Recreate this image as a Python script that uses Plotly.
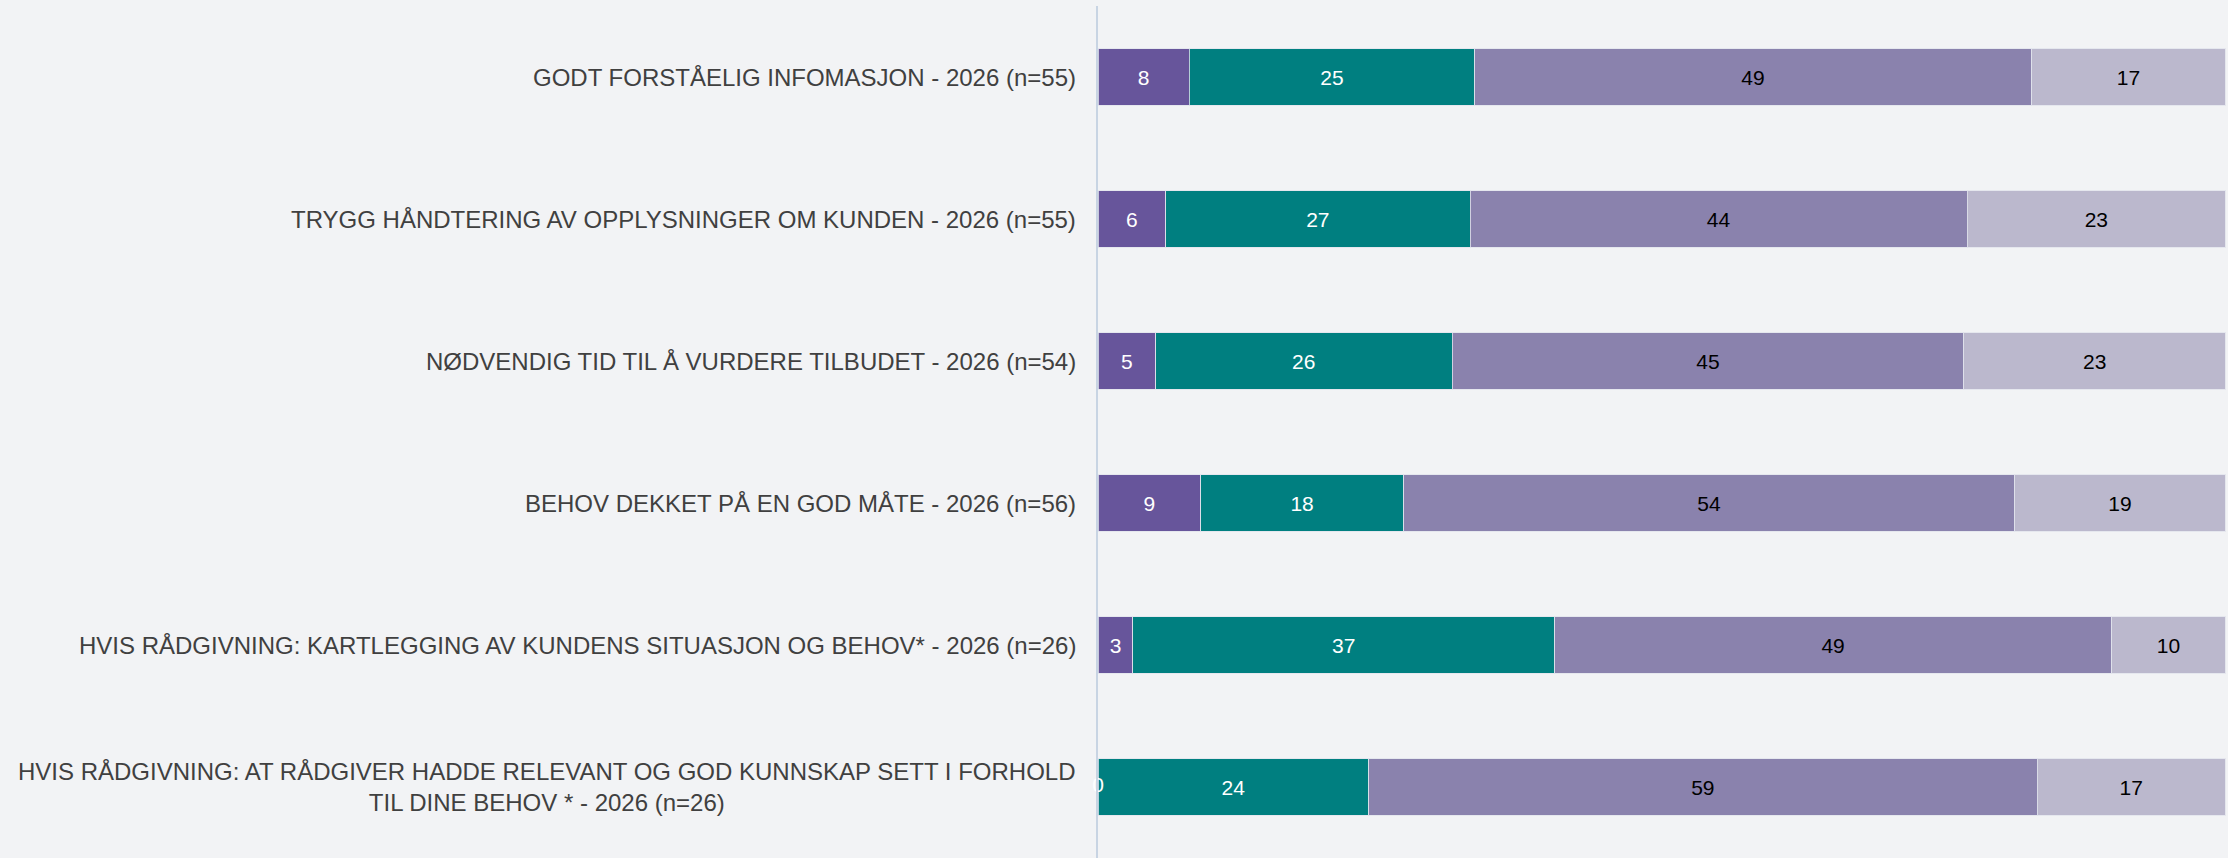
import plotly.graph_objects as go

categories = [
    "GODT FORSTÅELIG INFOMASJON - 2026 (n=55)",
    "TRYGG HÅNDTERING AV OPPLYSNINGER OM KUNDEN - 2026 (n=55)",
    "NØDVENDIG TID TIL Å VURDERE TILBUDET - 2026 (n=54)",
    "BEHOV DEKKET PÅ EN GOD MÅTE - 2026 (n=56)",
    "HVIS RÅDGIVNING: KARTLEGGING AV KUNDENS SITUASJON OG BEHOV* - 2026 (n=26)",
    "HVIS RÅDGIVNING: AT RÅDGIVER HADDE RELEVANT OG GOD KUNNSKAP SETT I FORHOLD<br>TIL DINE BEHOV * - 2026 (n=26)",
]
# percentages (labels show rounded values)
series_1 = [8.1, 6.0, 5.1, 9.1, 3.1, 0.0]
series_2 = [25.3, 27.0, 26.3, 18.0, 37.4, 24.0]
series_3 = [49.4, 44.1, 45.4, 54.2, 49.4, 59.3]
series_4 = [17.2, 22.9, 23.2, 18.7, 10.1, 16.7]

series = [series_1, series_2, series_3, series_4]
colors = ["#67559b", "#007f80", "#8a82ad", "#bbb8cd"]
text_colors = ["#ffffff", "#ffffff", "#000000", "#000000"]
FONT = "Liberation Sans, Arial, sans-serif"

ids = list(range(len(categories)))

fig = go.Figure()
for vals, col, tcol in zip(series, colors, text_colors):
    fig.add_trace(go.Bar(
        y=ids, x=vals, orientation="h",
        marker=dict(color=col, line=dict(color="rgba(225,228,236,0.8)", width=1)),
        text=[f"{v:.0f}" for v in vals], textposition="inside",
        insidetextanchor="middle", textangle=0,
        textfont=dict(color=tcol, size=21, family=FONT),
        cliponaxis=False, showlegend=False, hoverinfo="x+y",
    ))

# labels for zero-width segments (plotly does not draw inside text for empty bars)
for k, (vals, tcol) in enumerate(zip(series, text_colors)):
    zx, zy, zt = [], [], []
    for i, v in enumerate(vals):
        if v == 0:
            start = sum(series[j][i] for j in range(k))
            zx.append(start + v / 2)
            zy.append(i)
            zt.append(f"{v:.0f}")
    if zx:
        fig.add_trace(go.Scatter(
            x=zx, y=zy, text=zt, mode="text", textposition="middle center",
            textfont=dict(color=tcol, size=21, family=FONT),
            cliponaxis=False, showlegend=False, hoverinfo="skip",
        ))

for i, lab in enumerate(categories):
    fig.add_annotation(
        x=0, xref="paper", y=i, yref="y", text=lab, showarrow=False,
        xanchor="right", xshift=-20, align="center",
        font=dict(size=24, color="#404040", family=FONT),
    )

fig.update_layout(
    width=2228, height=858,
    barmode="stack", bargap=0.6,
    paper_bgcolor="#f2f3f5", plot_bgcolor="#f2f3f5",
    margin=dict(l=1098, r=2, t=6, b=0),
    uniformtext=dict(mode="show", minsize=21),
    xaxis=dict(range=[0, 100.05], showgrid=False, zeroline=False, showticklabels=False,
               showline=False, fixedrange=True),
    yaxis=dict(range=[len(categories) - 0.5, -0.5], showgrid=False, zeroline=False,
               showticklabels=False, showline=True, linecolor="#c8d4e3", linewidth=2,
               ticks=""),
)

fig.write_html(
    "out.html",
    config={"displayModeBar": False},
    post_script="document.body.style.margin='0';document.body.style.background='#f2f3f5';document.body.style.overflow='hidden';",
)
